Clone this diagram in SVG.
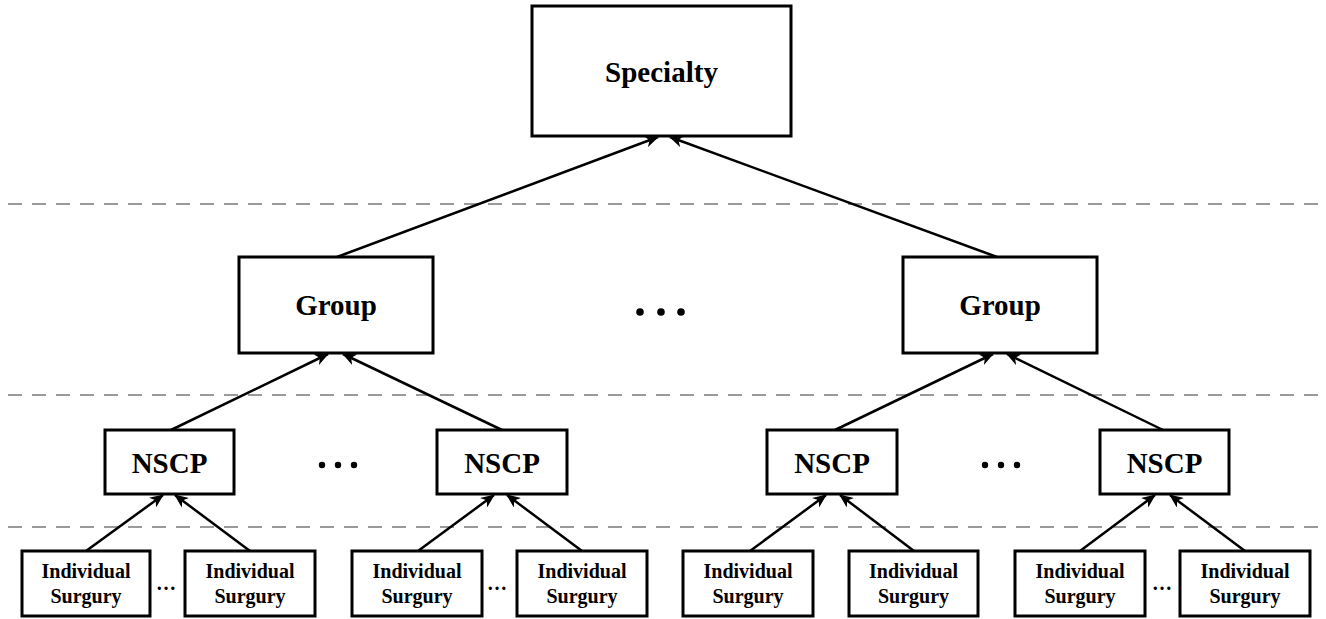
<svg xmlns="http://www.w3.org/2000/svg" width="1326" height="619" viewBox="0 0 1326 619">
  <style>
    .box { fill: #fff; stroke: #000; stroke-width: 3; }
    .big { font-family: "Liberation Serif", "Times New Roman", serif; font-weight: bold; font-size: 29px; fill: #000; text-anchor: middle; }
    .small { font-family: "Liberation Serif", "Times New Roman", serif; font-weight: bold; font-size: 20px; fill: #000; text-anchor: middle; }
    .tier { stroke: #9a9a9a; stroke-width: 2; stroke-dasharray: 14 10; fill: none; }
    .edge { stroke: #000; stroke-width: 2.5; fill: none; marker-end: url(#arrow); }
  </style>
  <defs>
    <marker id="arrow" markerUnits="userSpaceOnUse" markerWidth="14" markerHeight="12" viewBox="0 0 14 12" refX="13" refY="6" orient="auto">
      <path d="M0,0 L14,6 L0,12 L4,6 z" fill="#000"/>
    </marker>
  </defs>
  <rect width="1326" height="619" fill="#fff"/>

  <!-- tier separators -->
  <g id="tiers">
    <line class="tier" x1="8" y1="204" x2="1326" y2="204"/>
    <line class="tier" x1="8" y1="395" x2="1326" y2="395"/>
    <line class="tier" x1="8" y1="527" x2="1326" y2="527"/>
  </g>

  <!-- connectors -->
  <g id="connectors">
    <line class="edge" x1="337" y1="257" x2="658" y2="137"/>
    <line class="edge" x1="997" y1="257" x2="670" y2="137"/>
    <line class="edge" x1="171" y1="430" x2="328" y2="354"/>
    <line class="edge" x1="502" y1="430" x2="343" y2="354"/>
    <line class="edge" x1="835" y1="430" x2="993" y2="354"/>
    <line class="edge" x1="1163" y1="430" x2="1007" y2="354"/>
    <line class="edge" x1="86" y1="551" x2="163" y2="495"/>
    <line class="edge" x1="250" y1="551" x2="175" y2="495"/>
    <line class="edge" x1="418" y1="551" x2="494" y2="495"/>
    <line class="edge" x1="582" y1="551" x2="507" y2="495"/>
    <line class="edge" x1="750" y1="551" x2="826" y2="495"/>
    <line class="edge" x1="914" y1="551" x2="840" y2="495"/>
    <line class="edge" x1="1080" y1="551" x2="1155" y2="495"/>
    <line class="edge" x1="1245" y1="551" x2="1170" y2="495"/>
  </g>

  <!-- top level -->
  <g id="specialty">
    <rect class="box" x="532" y="6" width="259" height="130"/>
    <text class="big" x="661.5" y="82">Specialty</text>
  </g>

  <!-- groups -->
  <g id="group-1">
    <rect class="box" x="239" y="257" width="194" height="96"/>
    <text class="big" x="336" y="315">Group</text>
  </g>
  <g id="group-2">
    <rect class="box" x="903" y="257" width="194" height="96"/>
    <text class="big" x="1000" y="315">Group</text>
  </g>
  <g id="group-gap">
    <circle cx="640" cy="312" r="3.8"/>
    <circle cx="661" cy="312" r="3.8"/>
    <circle cx="681" cy="312" r="3.8"/>
  </g>

  <!-- NSCP level -->
  <g id="nscp-1">
    <rect class="box" x="105" y="430" width="129" height="64"/>
    <text class="big" x="169.5" y="473">NSCP</text>
  </g>
  <g id="nscp-2">
    <rect class="box" x="437" y="430" width="130" height="64"/>
    <text class="big" x="502" y="473">NSCP</text>
  </g>
  <g id="nscp-3">
    <rect class="box" x="767" y="430" width="130" height="64"/>
    <text class="big" x="832" y="473">NSCP</text>
  </g>
  <g id="nscp-4">
    <rect class="box" x="1100" y="430" width="129" height="64"/>
    <text class="big" x="1164.5" y="473">NSCP</text>
  </g>
  <g id="nscp-gap-1">
    <circle cx="322" cy="465" r="3.2"/>
    <circle cx="338" cy="465" r="3.2"/>
    <circle cx="354" cy="465" r="3.2"/>
  </g>
  <g id="nscp-gap-2">
    <circle cx="985" cy="465" r="3.2"/>
    <circle cx="1001" cy="465" r="3.2"/>
    <circle cx="1017" cy="465" r="3.2"/>
  </g>

  <!-- individual surgeries -->
  <g id="surgery-1">
    <rect class="box" x="22" y="551" width="128" height="65"/>
    <text class="small" x="86" y="578">Individual</text>
    <text class="small" x="86" y="603">Surgury</text>
  </g>
  <g id="surgery-2">
    <rect class="box" x="185" y="551" width="130" height="65"/>
    <text class="small" x="250" y="578">Individual</text>
    <text class="small" x="250" y="603">Surgury</text>
  </g>
  <g id="surgery-3">
    <rect class="box" x="352" y="551" width="130" height="65"/>
    <text class="small" x="417" y="578">Individual</text>
    <text class="small" x="417" y="603">Surgury</text>
  </g>
  <g id="surgery-4">
    <rect class="box" x="517" y="551" width="130" height="65"/>
    <text class="small" x="582" y="578">Individual</text>
    <text class="small" x="582" y="603">Surgury</text>
  </g>
  <g id="surgery-5">
    <rect class="box" x="683" y="551" width="130" height="65"/>
    <text class="small" x="748" y="578">Individual</text>
    <text class="small" x="748" y="603">Surgury</text>
  </g>
  <g id="surgery-6">
    <rect class="box" x="849" y="551" width="129" height="65"/>
    <text class="small" x="913.5" y="578">Individual</text>
    <text class="small" x="913.5" y="603">Surgury</text>
  </g>
  <g id="surgery-7">
    <rect class="box" x="1015" y="551" width="130" height="65"/>
    <text class="small" x="1080" y="578">Individual</text>
    <text class="small" x="1080" y="603">Surgury</text>
  </g>
  <g id="surgery-8">
    <rect class="box" x="1180" y="551" width="130" height="65"/>
    <text class="small" x="1245" y="578">Individual</text>
    <text class="small" x="1245" y="603">Surgury</text>
  </g>
  <g id="surgery-gaps">
    <text class="small" x="166" y="590">…</text>
    <text class="small" x="497" y="590">…</text>
    <text class="small" x="1162" y="590">…</text>
  </g>
</svg>
